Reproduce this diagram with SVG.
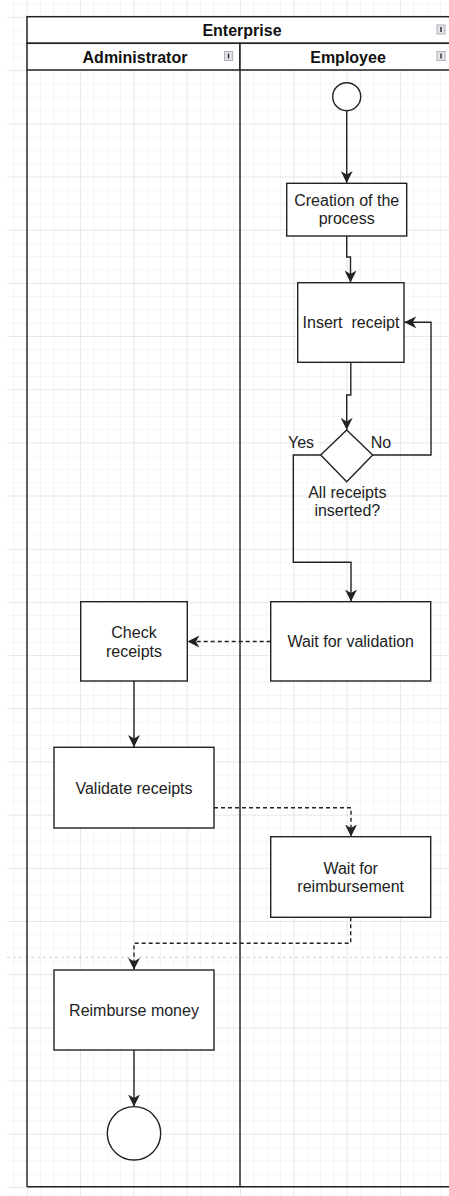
<svg xmlns="http://www.w3.org/2000/svg" width="449" height="1196" viewBox="0 0 449 1196">
<style>
.t{font-family:"Liberation Sans",Arial,sans-serif;font-size:16px;fill:#222;text-anchor:middle;white-space:pre}
.h{font-family:"Liberation Sans",Arial,sans-serif;font-size:16px;font-weight:bold;fill:#111;text-anchor:middle}
.box{fill:#fff;stroke:#222;stroke-width:1.4}
.ln{fill:none;stroke:#222;stroke-width:1.4}
.dash{fill:none;stroke:#222;stroke-width:1.4;stroke-dasharray:4 3}
.icon{fill:#e4e4e4;stroke:#a8b0c0;stroke-width:1}
.ibar{stroke:#333;stroke-width:1.5}
</style>
<defs>
<pattern id="minor" x="26.67" y="16.94" width="13.333" height="13.295" patternUnits="userSpaceOnUse">
<path d="M0 0H13.333M0 0V13.295" fill="none" stroke="#ebebeb" stroke-width="1"/>
</pattern>
<pattern id="major" x="26.67" y="16.94" width="53.333" height="53.18" patternUnits="userSpaceOnUse">
<path d="M0 0H53.333M0 0V53.18" fill="none" stroke="#dcdcdc" stroke-width="1"/>
</pattern>
<marker id="arr" markerWidth="12" markerHeight="12" refX="10" refY="5" orient="auto" markerUnits="userSpaceOnUse" viewBox="0 0 10 10">
<path d="M0 0L10 5L0 10L3 5Z" fill="#222"/>
</marker>
</defs>
<rect width="449" height="1196" fill="#fff"/>
<rect x="7" y="0" width="442" height="1196" fill="url(#minor)"/>
<rect x="7" y="0" width="442" height="1196" fill="url(#major)"/>
<line x1="7" y1="957.3" x2="449" y2="957.3" stroke="#d0d0d0" stroke-width="1" stroke-dasharray="3 3"/>

<g id="pool">
<rect x="27" y="16.7" width="426" height="26.6" fill="#fff" stroke="#222" stroke-width="1.5"/>
<rect x="27" y="43.3" width="213" height="26.7" fill="#fff" stroke="#222" stroke-width="1.5"/>
<rect x="240" y="43.3" width="213" height="26.7" fill="#fff" stroke="#222" stroke-width="1.5"/>
<line x1="27" y1="70" x2="27" y2="1186.7" class="ln" stroke-width="1.5"/>
<line x1="240" y1="70" x2="240" y2="1186.7" class="ln" stroke-width="1.5"/>
<line x1="27" y1="1186.7" x2="453" y2="1186.7" class="ln" stroke-width="1.5"/>
<text class="h" x="242" y="35.8">Enterprise</text>
<text class="h" x="135" y="62.5">Administrator</text>
<text class="h" x="348" y="62.5">Employee</text>
<rect class="icon" x="437" y="25" width="8" height="9"/><line class="ibar" x1="441" y1="27" x2="441" y2="32"/>
<rect class="icon" x="437" y="51.5" width="8" height="9"/><line class="ibar" x1="441" y1="53.5" x2="441" y2="58.5"/>
<rect class="icon" x="224.5" y="51.5" width="8" height="9"/><line class="ibar" x1="228.5" y1="53.5" x2="228.5" y2="58.5"/>
</g>

<g id="connectors">
<path class="ln" d="M346.7 110.7V183" marker-end="url(#arr)"/>
<path class="ln" d="M346.7 236V257H350.5V282.5" marker-end="url(#arr)"/>
<path class="ln" d="M350.8 362.3V395H346.7V429.8" marker-end="url(#arr)"/>
<path class="ln" d="M372.7 455H431V322.3H404.3" marker-end="url(#arr)"/>
<path class="ln" d="M320.7 455H293.3V562.3H351V601.5" marker-end="url(#arr)"/>
<path class="dash" d="M270.7 641.5H187.5" marker-end="url(#arr)"/>
<path class="ln" d="M134 681V747" marker-end="url(#arr)"/>
<path class="dash" d="M214 807.7H351V836.5" marker-end="url(#arr)"/>
<path class="dash" d="M350.7 917.3V943.3H134V969.8" marker-end="url(#arr)"/>
<path class="ln" d="M134 1050V1106.5" marker-end="url(#arr)"/>
<text class="t" x="301" y="448">Yes</text>
<text class="t" x="381" y="448">No</text>
</g>

<g id="start"><circle class="box" cx="346.7" cy="96.7" r="14"/></g>
<g id="creation"><rect class="box" x="286.7" y="183.3" width="120" height="52.7"/>
<text class="t" x="346.7" y="205.5">Creation of the</text><text class="t" x="346.7" y="224">process</text></g>
<g id="insert"><rect class="box" x="297.7" y="282.7" width="106.3" height="79.6"/>
<text class="t" x="351" y="328">Insert  receipt</text></g>
<g id="decision"><path class="box" d="M346.7 430L372.7 455L346.7 481.7L320.7 455Z"/>
<text class="t" x="347.3" y="498">All receipts</text><text class="t" x="347.3" y="516">inserted?</text></g>
<g id="waitval"><rect class="box" x="270.7" y="601.7" width="160" height="79.3"/>
<text class="t" x="350.7" y="647">Wait for validation</text></g>
<g id="check"><rect class="box" x="80.7" y="601.7" width="106.6" height="79.3"/>
<text class="t" x="134" y="638">Check</text><text class="t" x="134" y="656.5">receipts</text></g>
<g id="validate"><rect class="box" x="54" y="747.3" width="160" height="80.7"/>
<text class="t" x="134" y="793.5">Validate receipts</text></g>
<g id="waitreimb"><rect class="box" x="270.7" y="836.7" width="160" height="80.6"/>
<text class="t" x="350.7" y="873.5">Wait for</text><text class="t" x="350.7" y="892">reimbursement</text></g>
<g id="reimburse"><rect class="box" x="54" y="970" width="160" height="80"/>
<text class="t" x="134" y="1016">Reimburse money</text></g>
<g id="end"><circle class="box" cx="134" cy="1133.3" r="26.7"/></g>
</svg>
